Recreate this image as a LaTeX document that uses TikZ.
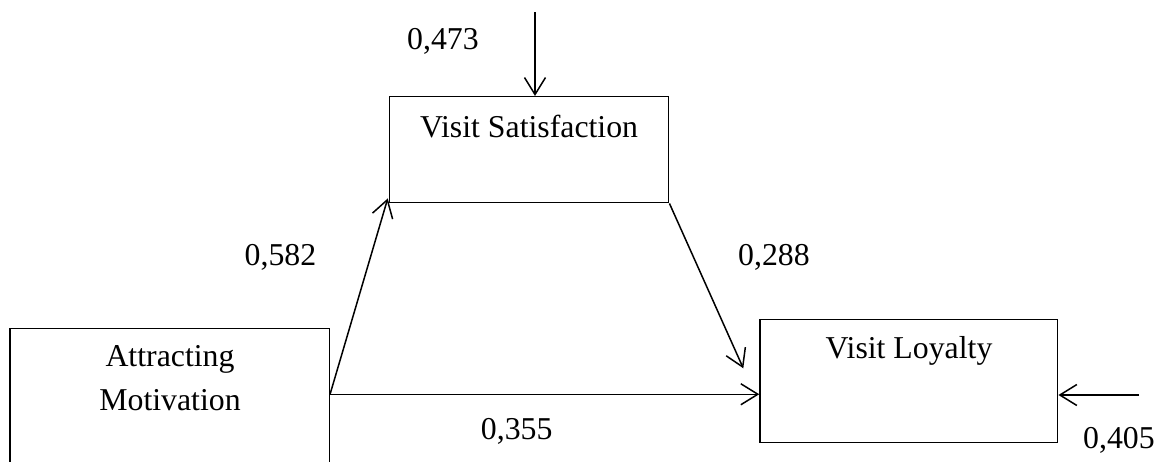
\documentclass[tikz,border=0pt]{standalone}
\usepackage{fontspec}
\setmainfont{Liberation Serif}
\usetikzlibrary{arrows.meta}
\begin{document}
\begin{tikzpicture}[x=1pt,y=-1pt,
  box/.style={draw,line width=1.5pt,rectangle,inner sep=0pt},
  txt/.style={anchor=base,inner sep=0pt,font=\fontsize{31.8}{44}\selectfont},
  conn/.style={line width=1.5pt,-{Straight Barb[length=17pt,width=21pt,line width=1.5pt]}}]
\useasboundingbox (0,0) rectangle (1173,461);
\clip (0,0) rectangle (1173,461);
\fill[white] (0,0) rectangle (1173,461);
% boxes
\node[box,minimum width=279.2pt,minimum height=106pt] (sat) at (529.1,149.7) {};
\node[box,minimum width=319.3pt,minimum height=153.4pt] (att) at (169.65,405) {};
\node[box,minimum width=297.7pt,minimum height=123pt] (loy) at (908.85,380.8) {};
% box texts
\node[txt] (sattxt) at (529.1,137.3) {Visit Satisfaction};
\node[txt] (atttxt1) at (170,366.7) {Attracting};
\node[txt] (atttxt2) at (170,410.7) {Motivation};
\node[txt] (loytxt) at (909,358.3) {Visit Loyalty};
% free ends
\coordinate (attout) at ([yshift=-66.7pt]att.north east);
\coordinate (topin) at (535,12);
\coordinate (loyin) at (743.3,368.3);
\coordinate (rightin) at (1139,395);
% connectors
\draw[conn] (topin) -- (topin |- sat.north);
\draw[conn] (attout) -- ([xshift=-1pt,yshift=5pt]sat.south west);
\draw[conn] (sat.south east) -- (loyin);
\draw[conn] (attout) -- (attout -| loy.west);
\draw[conn] (rightin) -- (rightin -| loy.east);
% labels
\node[txt] (l473) at (443,49.3) {0,473};
\node[txt] (l582) at (280.5,265) {0,582};
\node[txt] (l288) at (774,265) {0,288};
\node[txt] (l355) at (516.7,439.3) {0,355};
\node[txt] (l405) at (1119,448.3) {0,405};
\end{tikzpicture}
\end{document}
